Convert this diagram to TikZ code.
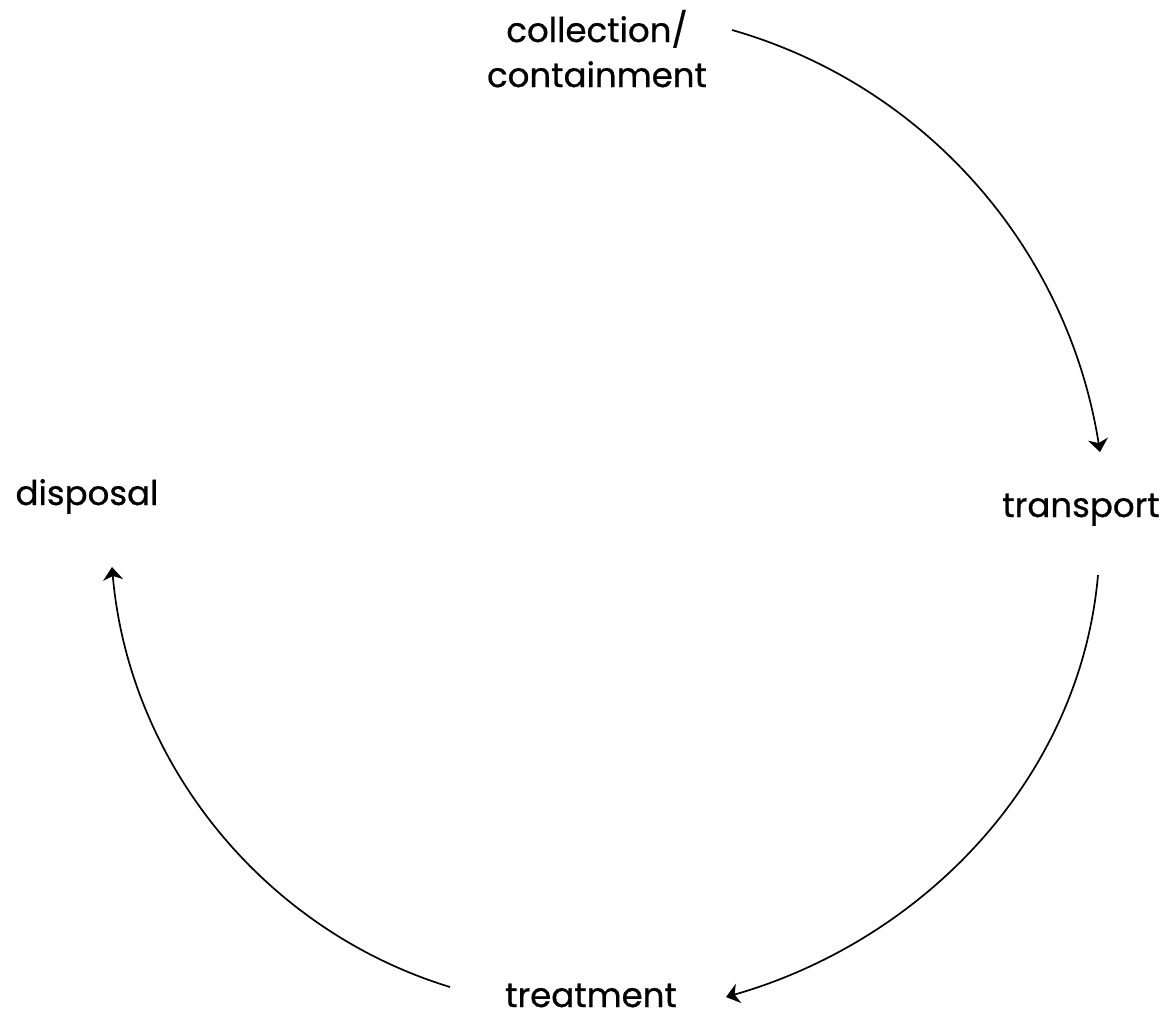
\documentclass[tikz,border=0pt]{standalone}
\usepackage{fontspec}
\setmainfont{Poppins}[FakeBold=0.7]
\usetikzlibrary{arrows.meta}
\begin{document}
\begin{tikzpicture}[x=1pt,y=-1pt,
  lbl/.style={inner sep=0pt,font=\fontsize{34}{45}\selectfont,align=center},
  flow/.style={line width=1.7pt,-{Stealth[length=13pt,width=20pt,inset=4pt]}}]
\useasboundingbox[fill=white] (0,0) rectangle (1169,1020);
\node[lbl,anchor=base] (col) at (597,87) {collection/\\containment};
\node[lbl,anchor=base] (tra) at (1081,517) {transport};
\node[lbl,anchor=base] (tre) at (591,1007) {treatment};
\node[lbl,anchor=base] (dis) at (87,505) {disposal};
\coordinate (s1) at (732,30);
\coordinate (e1) at (1100,452);
\coordinate (s2) at (1098,575);
\coordinate (e2) at (726,997);
\coordinate (s3) at (450,987);
\coordinate (e3) at (112,567);
\draw[flow] (s1) to[out=-16,in=99,looseness=0.93] (e1);
\draw[flow] (s2) to[out=-95,in=16,looseness=0.93] (e2);
\draw[flow] (s3) to[out=163,in=-85,looseness=0.93] (e3);
\end{tikzpicture}
\end{document}
